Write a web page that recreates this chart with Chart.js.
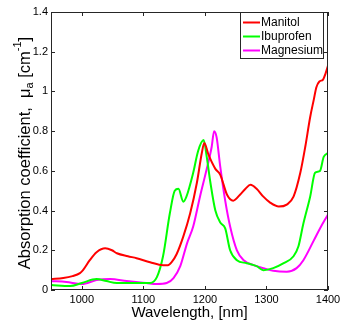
<!DOCTYPE html>
<html>
<head>
<meta charset="utf-8">
<script src="https://cdn.jsdelivr.net/npm/chart.js@4"></script>
<style>
  html, body { margin: 0; padding: 0; background: #fff; }
  #wrap { width: 360px; height: 322px; position: relative; }
</style>
</head>
<body>
<div id="wrap"><canvas id="c" width="360" height="322"></canvas></div>
<script>
// readings from the reference plot
const manitolWl = [950, 970, 985, 997, 1002, 1013, 1024, 1038, 1049, 1057, 1075, 1089, 1111, 1132, 1140, 1146, 1154, 1165, 1176, 1187, 1195, 1199, 1206, 1217, 1225, 1236, 1246, 1257, 1266, 1274, 1284, 1295, 1306, 1320, 1333, 1344, 1355, 1363, 1371, 1377, 1381, 1386, 1392, 1396, 1400];
const manitol = [0.055, 0.06, 0.07, 0.085, 0.10, 0.15, 0.19, 0.21, 0.20, 0.185, 0.17, 0.16, 0.14, 0.125, 0.125, 0.14, 0.18, 0.27, 0.385, 0.54, 0.69, 0.74, 0.68, 0.61, 0.58, 0.48, 0.45, 0.48, 0.51, 0.53, 0.51, 0.47, 0.44, 0.42, 0.43, 0.47, 0.59, 0.72, 0.87, 0.96, 1.02, 1.05, 1.06, 1.09, 1.13];

const ibuprofenWl = [950, 981, 1000, 1024, 1040, 1057, 1083, 1111, 1122, 1132, 1143, 1151, 1157, 1165, 1170, 1181, 1189, 1198, 1203, 1209, 1217, 1225, 1233, 1241, 1252, 1268, 1284, 1295, 1311, 1328, 1344, 1352, 1360, 1371, 1379, 1387, 1393, 1400];
const ibuprofen = [0.025, 0.02, 0.035, 0.055, 0.045, 0.035, 0.035, 0.035, 0.065, 0.17, 0.385, 0.50, 0.51, 0.445, 0.47, 0.59, 0.70, 0.755, 0.67, 0.54, 0.40, 0.34, 0.31, 0.20, 0.15, 0.135, 0.12, 0.10, 0.11, 0.135, 0.17, 0.22, 0.335, 0.47, 0.59, 0.60, 0.67, 0.69];

const magnesiumWl = [950, 975, 1000, 1024, 1046, 1073, 1105, 1122, 1138, 1149, 1160, 1171, 1181, 1192, 1203, 1211, 1215, 1219, 1225, 1233, 1241, 1252, 1263, 1279, 1295, 1311, 1333, 1349, 1360, 1377, 1387, 1400];
const magnesium = [0.045, 0.04, 0.03, 0.05, 0.055, 0.045, 0.035, 0.03, 0.035, 0.06, 0.12, 0.235, 0.32, 0.47, 0.61, 0.72, 0.80, 0.77, 0.62, 0.45, 0.32, 0.20, 0.15, 0.125, 0.11, 0.097, 0.092, 0.11, 0.15, 0.25, 0.31, 0.38];

const xTicks = [1000, 1100, 1200, 1300, 1400];
const yTicks = [0, 0.2, 0.4, 0.6, 0.8, 1, 1.2, 1.4];

const FONT = "'Liberation Sans', Arial, sans-serif";

function pts(xs, ys) {
    return xs.map((x, i) => ({ x: x, y: ys[i] }));
}

const series = [
    { label: "Manitol", color: "#ff0000", data: pts(manitolWl, manitol) },
    { label: "Ibuprofen", color: "#00ff00", data: pts(ibuprofenWl, ibuprofen) },
    { label: "Magnesium", color: "#ff00ff", data: pts(magnesiumWl, magnesium) }
];

// box, inward ticks, y title with sub/superscript, legend
const matlabDecor = {
    id: "matlabDecor",
    afterDraw(chart) {
        const ctx = chart.ctx;
        const a = chart.chartArea;
        const xs = chart.scales.x, ys = chart.scales.y;
        ctx.save();
        ctx.strokeStyle = "#262626";
        ctx.lineWidth = 1;
        ctx.strokeRect(Math.round(a.left) + 0.5, Math.round(a.top) + 0.5,
            Math.round(a.right - a.left) - 1, Math.round(a.bottom - a.top) - 1);

        ctx.beginPath();
        yTicks.forEach(v => {
            const y = Math.round(ys.getPixelForValue(v)) + 0.5;
            ctx.moveTo(a.left, y); ctx.lineTo(a.left + 4, y);
            ctx.moveTo(a.right, y); ctx.lineTo(a.right - 4, y);
        });
        xTicks.forEach(v => {
            const x = Math.round(xs.getPixelForValue(v)) + 0.5;
            ctx.moveTo(x, a.bottom); ctx.lineTo(x, a.bottom - 4);
            ctx.moveTo(x, a.top); ctx.lineTo(x, a.top + 4);
        });
        ctx.stroke();

        // y axis title
        const parts = [
            { t: "Absorption coefficient,  \u03bc", f: 16.5, dy: 0 },
            { t: "a", f: 11, dy: 5 },
            { t: " [cm", f: 16.5, dy: 0 },
            { t: "-1", f: 11, dy: -7 },
            { t: "]", f: 16.5, dy: 0 }
        ];
        let total = 0;
        parts.forEach(p => {
            ctx.font = p.f + "px " + FONT;
            p.w = ctx.measureText(p.t).width;
            total += p.w;
        });
        ctx.translate(25, 153);
        ctx.rotate(-Math.PI / 2);
        ctx.fillStyle = "#000";
        ctx.textBaseline = "middle";
        ctx.textAlign = "left";
        let cx = -total / 2;
        parts.forEach(p => {
            ctx.font = p.f + "px " + FONT;
            ctx.fillText(p.t, cx, p.dy);
            cx += p.w;
        });
        ctx.restore();

        // legend
        ctx.save();
        ctx.fillStyle = "#fff";
        ctx.fillRect(240.5, 12.5, 83, 46);
        ctx.strokeStyle = "#262626";
        ctx.lineWidth = 1;
        ctx.strokeRect(240.5, 12.5, 83, 46);
        ctx.font = "12px " + FONT;
        ctx.textBaseline = "middle";
        ctx.fillStyle = "#000";
        series.forEach((s, i) => {
            const y = 22.5 + i * 14;
            ctx.strokeStyle = s.color;
            ctx.lineWidth = 2;
            ctx.beginPath();
            ctx.moveTo(243, y); ctx.lineTo(260, y);
            ctx.stroke();
            ctx.fillText(s.label, 261, y);
        });
        ctx.restore();
    }
};

new Chart(document.getElementById("c"), {
    type: "line",
    data: {
        datasets: series.map(s => ({
            label: s.label,
            data: s.data,
            borderColor: s.color,
            backgroundColor: s.color,
            borderWidth: 2,
            pointRadius: 0,
            cubicInterpolationMode: "monotone",
            fill: false
        }))
    },
    options: {
        responsive: false,
        animation: false,
        devicePixelRatio: 1,
        layout: { padding: { top: 12, right: 32, left: 0, bottom: 0 } },
        plugins: {
            legend: { display: false },
            tooltip: { enabled: false }
        },
        scales: {
            x: {
                type: "linear",
                min: 950,
                max: 1400,
                afterFit: s => { s.height = 32; },
                afterBuildTicks: s => { s.ticks = xTicks.map(v => ({ value: v })); },
                grid: { display: false, drawTicks: false },
                border: { display: false },
                ticks: {
                    padding: 3,
                    color: "#000",
                    font: { family: FONT, size: 11 },
                    callback: v => String(v)
                },
                title: { display: true, text: "Wavelength, [nm]", color: "#000", font: { family: FONT, size: 15 }, padding: 0 }
            },
            y: {
                min: 0,
                max: 1.4,
                afterFit: s => { s.width = 51; },
                afterBuildTicks: s => { s.ticks = yTicks.map(v => ({ value: v })); },
                grid: { display: false, drawTicks: false },
                border: { display: false },
                ticks: {
                    padding: 3,
                    color: "#000",
                    font: { family: FONT, size: 11 },
                    callback: v => String(+v.toFixed(1))
                }
            }
        }
    },
    plugins: [matlabDecor]
});
</script>
</body>
</html>
